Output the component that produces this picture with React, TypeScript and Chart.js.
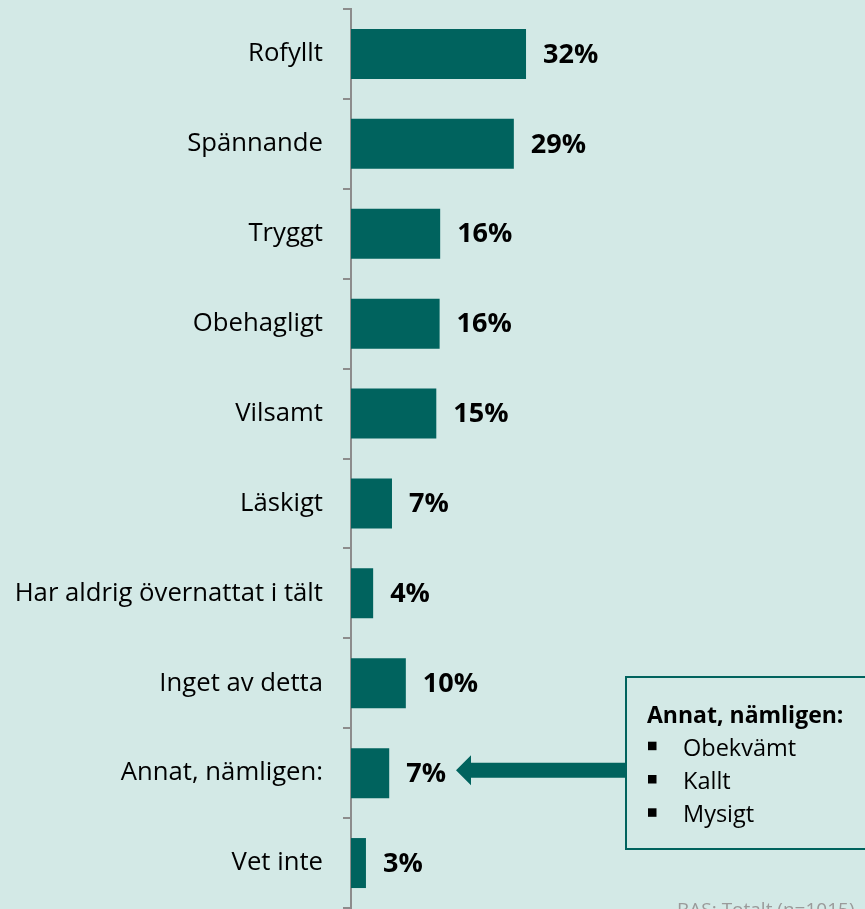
import React, { useEffect, useRef } from "react";
import { Chart, registerables } from "chart.js";

Chart.register(...registerables);

const categories = [
  "Rofyllt",
  "Spännande",
  "Tryggt",
  "Obehagligt",
  "Vilsamt",
  "Läskigt",
  "Har aldrig övernattat i tält",
  "Inget av detta",
  "Annat, nämligen:",
  "Vet inte",
];
const values = [31.6, 29.4, 16.1, 16.0, 15.4, 7.4, 4.0, 9.9, 6.9, 2.7];

const calloutTitle = "Annat, nämligen:";
const calloutItems = ["Obekvämt", "Kallt", "Mysigt"];
const calloutTargetIndex = 8;
const footerText = "BAS: Totalt (n=1015)";

const BG = "#d3e9e6";
const BAR = "#00635e";
const AXIS = "#8c8c8c";
const FONT = "'Open Sans', sans-serif";

const bgPlugin = {
  id: "bg",
  beforeDraw(chart: any) {
    const { ctx, width, height } = chart;
    ctx.save();
    ctx.fillStyle = BG;
    ctx.fillRect(0, 0, width, height);
    ctx.restore();
  },
};

const valueLabelPlugin = {
  id: "valueLabels",
  afterDatasetsDraw(chart: any) {
    const { ctx } = chart;
    const meta = chart.getDatasetMeta(0);
    ctx.save();
    ctx.font = `bold 27px ${FONT}`;
    ctx.fillStyle = "#000";
    ctx.textAlign = "left";
    ctx.textBaseline = "middle";
    meta.data.forEach((el: any, i: number) => {
      const v = values[i];
      ctx.fillText(`${Math.round(v)}%`, el.x + 17, el.y + 1);
    });
    ctx.restore();
  },
};

const calloutPlugin = {
  id: "callout",
  afterDraw(chart: any) {
    const { ctx } = chart;
    const yScale = chart.scales.y;
    const ay = yScale.getPixelForValue(calloutTargetIndex) - 3;
    const boxX = 626;
    const boxY = 677;
    const boxW = 260;
    const boxH = 172;
    ctx.save();
    // arrow
    ctx.fillStyle = BAR;
    const tipX = 456;
    const headBack = 471;
    ctx.beginPath();
    ctx.moveTo(tipX, ay);
    ctx.lineTo(headBack, ay - 15);
    ctx.lineTo(headBack, ay - 7.5);
    ctx.lineTo(boxX, ay - 7.5);
    ctx.lineTo(boxX, ay + 7.5);
    ctx.lineTo(headBack, ay + 7.5);
    ctx.lineTo(headBack, ay + 15);
    ctx.closePath();
    ctx.fill();
    // box
    ctx.fillStyle = BG;
    ctx.fillRect(boxX, boxY, boxW, boxH);
    ctx.strokeStyle = BAR;
    ctx.lineWidth = 2;
    ctx.strokeRect(boxX, boxY, boxW, boxH);
    // text
    ctx.fillStyle = "#000";
    ctx.textAlign = "left";
    ctx.textBaseline = "alphabetic";
    ctx.font = `bold 23px ${FONT}`;
    ctx.fillText(calloutTitle, 647, 722.5);
    ctx.font = `23.5px ${FONT}`;
    calloutItems.forEach((item, i) => {
      const base = 755.7 + i * 33.3;
      ctx.fillRect(648, base - 14, 8.5, 8.5);
      ctx.fillText(item, 683, base);
    });
    // footer
    ctx.fillStyle = "#9a9a9a";
    ctx.font = `19px ${FONT}`;
    ctx.fillText(footerText, 677, 916);
    ctx.restore();
  },
};

export default function App() {
  const ref = useRef<HTMLCanvasElement | null>(null);

  useEffect(() => {
    if (!ref.current) return;
    const chart = new Chart(ref.current, {
      type: "bar",
      data: {
        labels: categories,
        datasets: [
          {
            data: values,
            backgroundColor: BAR,
            borderWidth: 0,
            barPercentage: 0.556,
            categoryPercentage: 1,
          },
        ],
      },
      options: {
        indexAxis: "y",
        animation: false,
        responsive: false,
        maintainAspectRatio: false,
        layout: { padding: { top: 9, bottom: 1, left: 0, right: 0 } },
        plugins: {
          legend: { display: false },
          tooltip: { enabled: false },
          title: { display: false },
        },
        scales: {
          x: {
            display: false,
            min: 0,
            max: 92.8,
          },
          y: {
            position: "left",
            afterFit(scale: any) {
              scale.width = 351;
              scale.paddingTop = 0;
              scale.paddingBottom = 0;
            },
            grid: {
              display: true,
              drawOnChartArea: false,
              drawTicks: true,
              tickLength: 8,
              color: AXIS,
              lineWidth: 2,
              offset: true,
            },
            border: { display: true, color: AXIS, width: 2 },
            ticks: {
              padding: 20,
              color: "#000",
              font: { family: FONT, size: 25.7 },
              autoSkip: false,
            },
          },
        },
      } as any,
      plugins: [bgPlugin, valueLabelPlugin, calloutPlugin],
    });
    return () => chart.destroy();
  }, []);

  return (
    <div
      style={{
        position: "absolute",
        left: 0,
        top: 0,
        width: 865,
        height: 909,
        background: BG,
        overflow: "hidden",
      }}
    >
      <canvas ref={ref} width={865} height={909} style={{ display: "block" }} />
    </div>
  );
}
